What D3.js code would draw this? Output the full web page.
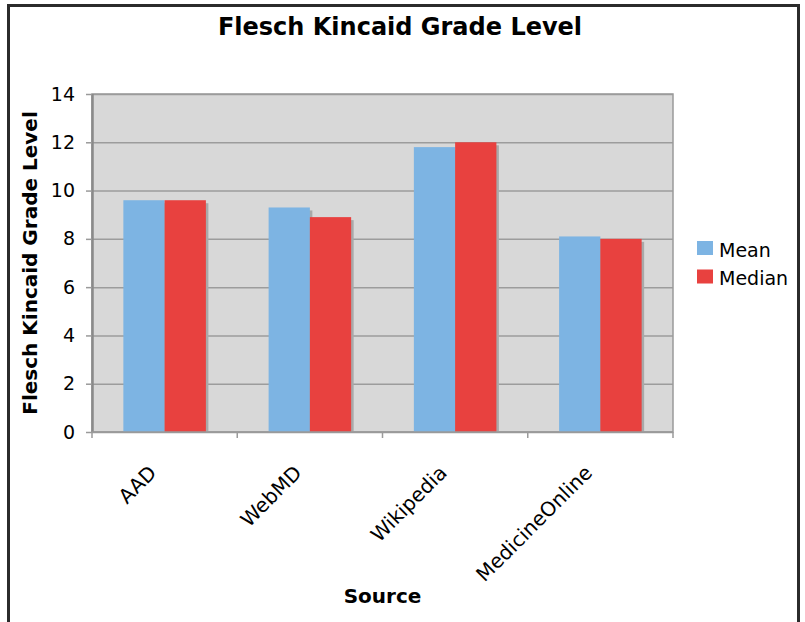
<!DOCTYPE html>
<html>
<head>
<meta charset="utf-8">
<script src="https://cdn.jsdelivr.net/npm/d3@7"></script>
<style>
  body { margin: 0; background: #fff; }
  text { font-family: "DejaVu Sans", Verdana, sans-serif; }
</style>
</head>
<body>
<div id="chart"></div>
<script>
var canvasWidth = 805;
var canvasHeight = 622;

/*Chart data*/
var sources = ["AAD", "WebMD", "Wikipedia", "MedicineOnline"];
var seriesNames = ["Mean", "Median"];
var meanValues = [9.6, 9.3, 11.8, 8.1];
var medianValues = [9.6, 8.9, 12.0, 8.0];
var yTicks = [0, 2, 4, 6, 8, 10, 12, 14];

var data = sources.map(function (s, i) {
    return {source: s, values: [{key: "Mean", value: meanValues[i]}, {key: "Median", value: medianValues[i]}]};
});

var svg = d3.select("div#chart").append("svg")
    .attr("width", canvasWidth)
    .attr("height", canvasHeight);

/*Outer frame*/
svg.append("rect")
    .attr("x", 8.5).attr("y", 5.5)
    .attr("width", 790).attr("height", 640)
    .attr("fill", "#fff")
    .attr("stroke", "#2b2b2b")
    .attr("stroke-width", 3);

/*Plot area*/
var plot = {left: 92, top: 94, right: 673, bottom: 432};
var width = plot.right - plot.left;
var height = plot.bottom - plot.top;

var container = svg.append("g")
    .attr("transform", "translate(" + plot.left + "," + plot.top + ")");

var yScale = d3.scaleLinear().domain([0, 14]).range([height, 0]);
var xScale = d3.scaleBand().domain(sources).range([0, width]).padding(0);
var xInner = d3.scaleBand().domain(seriesNames).range([0, xScale.bandwidth()])
    .paddingInner(0).paddingOuter(0.76);
var color = d3.scaleOrdinal().domain(seriesNames).range(["#7db4e3", "#e8413f"]);

container.append("rect")
    .attr("width", width)
    .attr("height", height)
    .attr("fill", "#d8d8d8");

/*Y gridlines*/
container.append("g")
    .call(d3.axisLeft(yScale).tickValues(yTicks).tickSize(-width).tickFormat(""))
    .call(function (g) { g.select(".domain").remove(); })
    .selectAll("line")
    .attr("stroke", "#9c9c9c")
    .attr("stroke-width", 1.5);

/*Plot border*/
container.append("rect")
    .attr("width", width)
    .attr("height", height)
    .attr("fill", "none")
    .attr("stroke", "#9a9a9a")
    .attr("stroke-width", 1.5);

container.append("line")
    .attr("x1", 0.5).attr("x2", 0.5)
    .attr("y1", 0).attr("y2", height)
    .attr("stroke", "#8a8a8a")
    .attr("stroke-width", 2.5);

/*Bars*/
var groups = container.selectAll(".group")
    .data(data)
    .join("g")
    .attr("class", "group")
    .attr("transform", function (d) { return "translate(" + xScale(d.source) + ",0)"; });

groups.selectAll(".shadow")
    .data(function (d) { return d.values; })
    .join("rect")
    .attr("class", "shadow")
    .attr("x", function (d) { return xInner(d.key) + 2.5; })
    .attr("y", function (d) { return yScale(d.value) + 3; })
    .attr("width", xInner.bandwidth())
    .attr("height", function (d) { return height - yScale(d.value) - 3; })
    .attr("fill", "#a9a9a9");

groups.selectAll(".bar")
    .data(function (d) { return d.values; })
    .join("rect")
    .attr("class", "bar")
    .attr("x", function (d) { return xInner(d.key); })
    .attr("y", function (d) { return yScale(d.value); })
    .attr("width", xInner.bandwidth())
    .attr("height", function (d) { return height - yScale(d.value); })
    .attr("fill", function (d) { return color(d.key); });

/*Y axis*/
container.append("g")
    .call(d3.axisLeft(yScale).tickValues(yTicks).tickSize(6).tickPadding(11))
    .call(function (g) { g.select(".domain").remove(); })
    .call(function (g) {
        g.selectAll("line").attr("stroke", "#9a9a9a").attr("stroke-width", 1.5);
        g.selectAll("text")
            .attr("fill", "#000")
            .style("font-size", "19px")
            .style("font-family", "DejaVu Sans");
    });

/*X axis*/
container.append("line")
    .attr("x1", 0).attr("x2", width)
    .attr("y1", height).attr("y2", height)
    .attr("stroke", "#9a9a9a")
    .attr("stroke-width", 1.5);

container.selectAll(".xtick")
    .data(sources.concat(["end"]))
    .join("line")
    .attr("class", "xtick")
    .attr("x1", function (d) { return d === "end" ? width : xScale(d); })
    .attr("x2", function (d) { return d === "end" ? width : xScale(d); })
    .attr("y1", height)
    .attr("y2", height + 6)
    .attr("stroke", "#9a9a9a")
    .attr("stroke-width", 1.5);

container.append("g")
    .attr("transform", "translate(0," + height + ")")
    .call(d3.axisBottom(xScale).tickSize(0))
    .call(function (g) {
        g.select(".domain").remove();
        g.selectAll("text")
            .attr("x", 0).attr("y", 0).attr("dy", 0)
            .attr("transform", "translate(-7,42) rotate(-45)")
            .style("text-anchor", "end")
            .attr("fill", "#000")
            .style("font-size", "20px")
            .style("font-family", "DejaVu Sans");
    });

/*Titles*/
svg.append("text")
    .attr("x", 400)
    .attr("y", 35)
    .attr("text-anchor", "middle")
    .style("font-size", "24px")
    .style("font-weight", "bold")
    .text("Flesch Kincaid Grade Level");

svg.append("text")
    .attr("transform", "translate(37," + (plot.top + height / 2) + ") rotate(-90)")
    .attr("text-anchor", "middle")
    .style("font-size", "20px")
    .style("font-weight", "bold")
    .text("Flesch Kincaid Grade Level");

svg.append("text")
    .attr("x", plot.left + width / 2)
    .attr("y", 603)
    .attr("text-anchor", "middle")
    .style("font-size", "20px")
    .style("font-weight", "bold")
    .text("Source");

/*Legend*/
var legend = svg.append("g")
    .attr("transform", "translate(697,241)");

var legendItems = legend.selectAll(".item")
    .data(seriesNames)
    .join("g")
    .attr("class", "item")
    .attr("transform", function (d, i) { return "translate(0," + (i * 28.5) + ")"; });

legendItems.append("rect")
    .attr("width", 16)
    .attr("height", 14)
    .attr("fill", function (d) { return color(d); });

legendItems.append("text")
    .attr("x", 22)
    .attr("y", 15.5)
    .style("font-size", "19px")
    .text(function (d) { return d; });
</script>
</body>
</html>
